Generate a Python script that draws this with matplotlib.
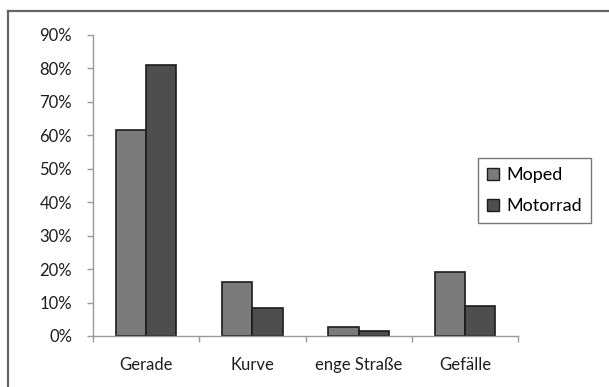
import matplotlib.pyplot as plt
from matplotlib.lines import Line2D
import numpy as np

categories = ["Gerade", "Kurve", "enge Straße", "Gefälle"]
moped = [61.5, 16.0, 2.7, 19.0]
motorrad = [81.0, 8.4, 1.6, 9.0]
yticks = [0, 10, 20, 30, 40, 50, 60, 70, 80, 90]

plt.rcParams["font.family"] = ["Lato", "DejaVu Sans"]

fig = plt.figure(figsize=(6.09, 3.87), dpi=100)
ax = fig.add_axes([0.1527, 0.1318, 0.6979, 0.7786])

x = np.arange(len(categories))
w = 1 / 3.5
ax.bar(x - w / 2, moped, w, color="#7b7b7b", edgecolor="#1c1c1c",
       linewidth=1.2, label="Moped")
ax.bar(x + w / 2, motorrad, w, color="#4e4e4e", edgecolor="#1c1c1c",
       linewidth=1.2, label="Motorrad")

ax.set_xlim(-0.5, len(categories) - 0.5)
ax.set_ylim(0, 90)
ax.set_yticks(yticks)
ax.set_yticklabels([f"{v}%" for v in yticks])

# category labels in the middle, tick marks between groups
ax.set_xticks(x)
ax.set_xticklabels(categories)
ax.set_xticks(np.arange(len(categories) + 1) - 0.5, minor=True)
ax.tick_params(axis="x", which="major", length=0, pad=15)
ax.tick_params(axis="x", which="minor", length=4, color="#9a9a9a", width=1)
ax.tick_params(axis="y", length=4, color="#9a9a9a", width=1, pad=11)
ax.tick_params(labelsize=12, labelcolor="#1e1e1e")

for side in ["top", "right"]:
    ax.spines[side].set_visible(False)
for side in ["left", "bottom"]:
    ax.spines[side].set_color("#9a9a9a")
    ax.spines[side].set_linewidth(1)

handles = [
    Line2D([], [], marker="s", linestyle="none", markersize=8,
           markerfacecolor="#7b7b7b", markeredgecolor="#1c1c1c", label="Moped"),
    Line2D([], [], marker="s", linestyle="none", markersize=8,
           markerfacecolor="#4e4e4e", markeredgecolor="#1c1c1c", label="Motorrad"),
]
leg = fig.legend(handles=handles, loc="upper left",
                 bbox_to_anchor=(0.785, 0.592), fontsize=13,
                 frameon=True, fancybox=False, handlelength=0.7,
                 handletextpad=0.35, labelspacing=0.85, borderpad=0.5,
                 borderaxespad=0)
leg.get_frame().set_edgecolor("#555555")
leg.get_frame().set_linewidth(1)

# outer chart frame (top and left edges)
fig.add_artist(Line2D([8 / 609, 8 / 609], [0, 1 - 11 / 387],
                      transform=fig.transFigure, color="#666666", lw=1.6))
fig.add_artist(Line2D([8 / 609, 1], [1 - 11 / 387, 1 - 11 / 387],
                      transform=fig.transFigure, color="#666666", lw=1.6))

fig.savefig("out.png", dpi=100)
